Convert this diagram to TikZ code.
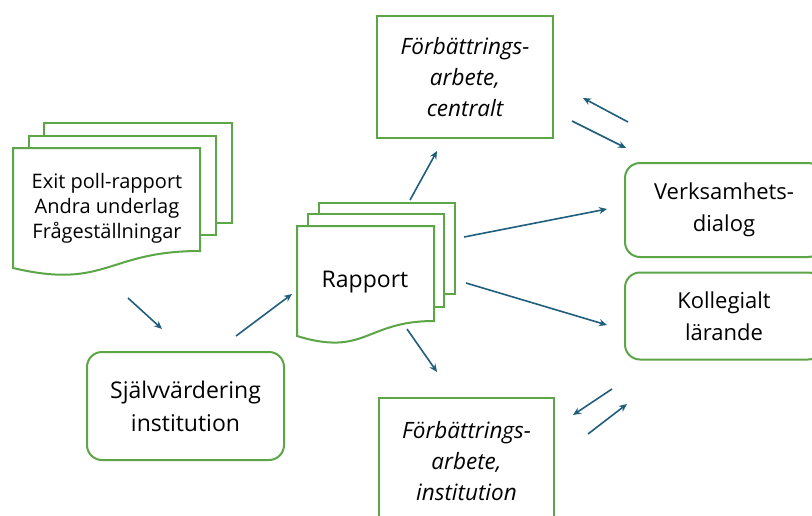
\documentclass[tikz,border=0pt]{standalone}
\usepackage{fontspec}
\setmainfont{Open Sans}
\usetikzlibrary{arrows.meta}
\definecolor{grn}{RGB}{92,166,72}
\definecolor{arr}{RGB}{32,94,124}
\begin{document}
\begin{tikzpicture}[x=1pt,y=-1pt,
  box/.style={draw=grn,line width=2pt,fill=white,inner sep=0pt,align=center},
  rbox/.style={box,rounded corners=15pt},
  page/.style={draw=grn,line width=2pt,fill=white,line join=miter},
  txt/.style={align=center,inner sep=0pt},
  con/.style={draw=arr,line width=1.6pt,-{Stealth[length=8pt,width=7pt]}},
  big/.style={font=\fontsize{23}{33}\selectfont},
  mid/.style={font=\fontsize{22}{32}\selectfont},
  itl/.style={font=\fontsize{22.5}{31}\selectfont\itshape}]
\useasboundingbox (0,0) rectangle (812,515);
\clip (0,0) rectangle (812,515);

% left multi-document
\path[page] (44,136) -- (44,123) -- (232,123) -- (232,223) -- (216,223);
\path[page] (29,148) -- (29,136) -- (216,136) -- (216,235) -- (200,235);
\path[page] (13,148) -- (200,148) -- (200,251)
  .. controls (106.5,251) and (106.5,290) .. (13,268) -- cycle;
\node[txt,font=\fontsize{20}{25}\selectfont] (docin) at (107,208)
  {Exit poll-rapport\\Andra underlag\\Frågeställningar};

% Rapport multi-document
\path[page] (319,214) -- (319,203) -- (455,203) -- (455,294) -- (444,294);
\path[page] (308,226) -- (308,214) -- (444,214) -- (444,307) -- (434,307);
\path[page] (297,226) -- (434,226) -- (434,321)
  .. controls (365.5,321) and (365.5,357) .. (297,336) -- cycle;
\node[txt,big] (rapport) at (365,282) {Rapport};

% boxes
\node[rbox,big,minimum width=197pt,minimum height=108pt] (sjalv) at (185.5,406)
  {Självvärdering\\institution};
\node[box,itl,minimum width=176pt,minimum height=122pt] (fcent) at (465,77)
  {Förbättrings-\\arbete,\\centralt};
\node[box,itl,minimum width=175pt,minimum height=126pt] (finst) at (466.5,461)
  {Förbättrings-\\arbete,\\institution};
\node[rbox,mid,minimum width=198pt,minimum height=94pt] (verk) at (724,210)
  {Verksamhets-\\dialog};
\node[rbox,mid,minimum width=198pt,minimum height=87pt] (koll) at (724,316)
  {Kollegialt\\lärande};

% arrow end points
\coordinate (a1s) at (128,298); \coordinate (a1e) at (162,329);
\coordinate (a2s) at (236,336); \coordinate (a2e) at (292,294);
\coordinate (a3s) at (410,200); \coordinate (a3e) at (437,151);
\coordinate (a4s) at (464,237); \coordinate (a4e) at (607,209);
\coordinate (a5s) at (466,283); \coordinate (a5e) at (607,325);
\coordinate (a6s) at (407,329); \coordinate (a6e) at (437,372);
\coordinate (a7s) at (628,122); \coordinate (a7e) at (583,98);
\coordinate (a8s) at (572,121); \coordinate (a8e) at (626,148);
\coordinate (a9s) at (612,389); \coordinate (a9e) at (573,415);
\coordinate (a10s) at (588,434); \coordinate (a10e) at (627,404);

\draw[con] (a1s) -- (a1e);
\draw[con] (a2s) -- (a2e);
\draw[con] (a3s) -- (a3e);
\draw[con] (a4s) -- (a4e);
\draw[con] (a5s) -- (a5e);
\draw[con] (a6s) -- (a6e);
\draw[con] (a7s) -- (a7e);
\draw[con] (a8s) -- (a8e);
\draw[con] (a9s) -- (a9e);
\draw[con] (a10s) -- (a10e);
\end{tikzpicture}
\end{document}
